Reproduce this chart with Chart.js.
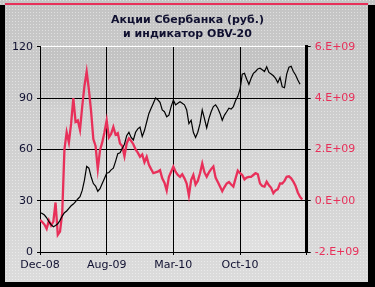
<!DOCTYPE html>
<html>
<head>
<meta charset="utf-8">
<script src="https://cdn.jsdelivr.net/npm/chart.js@4.4.0/dist/chart.umd.min.js"></script>
<style>
  html, body { margin: 0; padding: 0; background: #000; overflow: hidden; }
  canvas { display: block; }
</style>
</head>
<body>
<canvas id="sberbank" width="375" height="287"></canvas>
<script>

/*
 * Datos de la gráfica: acciones de Sberbank y OBV-20
 */

// Etiquetas del eje x (una cada 30 sesiones)
const etiquetasX = ['Dec-08', 'Aug-09', 'Mar-10', 'Oct-10'];

// Precio de la acción (rublos), eje izquierdo
const precioAcciones = [23, 22.5, 21.6, 20, 17.7, 16, 14.8, 15.5, 16.5, 18.5,
    21, 23, 24, 25.5, 27, 28, 29.5, 31, 32.3, 36,
    42, 50, 49, 44, 40, 38.5, 35.5, 37, 40, 43,
    46, 46.5, 48, 49, 53, 57.5, 58, 60.5, 63, 68,
    70, 67, 65.5, 70, 72, 73, 67.5, 71, 76, 81,
    84, 87, 90, 89, 87.5, 83, 82, 79, 80, 85,
    88.8, 86, 87, 87.8, 87, 86, 83, 75, 77, 70,
    67, 70, 75, 83, 78, 72.5, 78, 82, 85, 86,
    84, 81, 77, 80, 82, 84, 83.5, 85, 88.5, 91,
    95, 104, 104.5, 101, 98, 101.5, 104.4, 105.5, 107, 107.4,
    106.5, 105.5, 108.3, 105, 104, 103, 101.5, 99, 102, 96.5,
    96, 104, 108, 108.5, 105.5, 103.5, 100.5, 98];

// Indicador OBV-20 en miles de millones, eje derecho
const indicadorOBV = [-0.75, -0.83, -0.93, -1.10, -0.77, -0.97, -0.82, -0.07, -1.33, -1.20,
    -0.49, 2.00, 2.67, 2.27, 3.00, 4.00, 3.07, 3.13, 2.75, 3.67,
    4.47, 5.03, 4.33, 3.47, 2.40, 2.13, 1.23, 1.97, 2.27, 2.67,
    3.13, 2.47, 2.60, 2.87, 2.57, 2.63, 2.23, 2.13, 1.73, 2.23,
    2.43, 2.33, 2.20, 2.00, 1.87, 1.71, 1.80, 1.50, 1.71, 1.40,
    1.23, 1.07, 1.10, 1.13, 1.19, 0.87, 0.70, 0.40, 0.93, 1.13,
    1.33, 1.13, 1.00, 0.93, 1.03, 0.87, 0.67, 0.20, 0.80, 1.00,
    0.63, 0.77, 1.07, 1.45, 1.10, 0.93, 1.10, 1.23, 1.33, 0.90,
    0.73, 0.55, 0.37, 0.53, 0.67, 0.73, 0.63, 0.55, 0.87, 1.17,
    1.07, 1.00, 0.83, 0.90, 0.93, 0.93, 1.00, 1.07, 1.03, 0.67,
    0.57, 0.55, 0.74, 0.60, 0.50, 0.29, 0.40, 0.45, 0.67, 0.67,
    0.77, 0.93, 0.95, 0.87, 0.74, 0.57, 0.32, 0.15, 0.05];

const rojo = '#e8305a';
const textoOscuro = '#101030';
const fuente = 'DejaVu Sans, Verdana, sans-serif';

// Formato tipo Excel para el eje derecho: 6.E+09
function formatoCientifico(v) {
    if (v === 0) return '0.E+00';
    const exp = Math.floor(Math.log10(Math.abs(v)));
    const mant = Math.round(v / Math.pow(10, exp));
    return mant + '.E+' + String(exp).padStart(2, '0');
}

// Fondo punteado, área de trazado y marco negro
const fondoGrafica = {
    id: 'fondoGrafica',
    beforeDraw(chart) {
        const { ctx, width, height, chartArea: a } = chart;
        ctx.save();

        const gExt = ctx.createLinearGradient(0, 0, 0, height);
        gExt.addColorStop(0, '#c4c4c4');
        gExt.addColorStop(1, '#dcdcdc');
        ctx.fillStyle = gExt;
        ctx.fillRect(0, 0, width, height);

        const gInt = ctx.createLinearGradient(0, a.top, 0, a.bottom);
        gInt.addColorStop(0, '#c2c2c2');
        gInt.addColorStop(0.22, '#c6c6c6');
        gInt.addColorStop(0.3, '#d0d0d0');
        gInt.addColorStop(1, '#e0e0e0');
        ctx.fillStyle = gInt;
        ctx.fillRect(a.left, a.top, a.right - a.left, a.bottom - a.top);

        // trama de puntos claros
        const trama = document.createElement('canvas');
        trama.width = 3; trama.height = 3;
        const tctx = trama.getContext('2d');
        tctx.fillStyle = 'rgba(255,255,255,0.45)';
        tctx.fillRect(0, 0, 1, 1);
        ctx.fillStyle = ctx.createPattern(trama, 'repeat');
        ctx.fillRect(0, 0, width, height);

        // marco
        ctx.fillStyle = '#000';
        ctx.fillRect(0, 5, 5, height - 5);
        ctx.fillRect(368, 5, width - 368, height - 5);
        ctx.fillRect(0, 282, width, height - 282);
        ctx.fillStyle = rojo;
        ctx.fillRect(5, 3, 363, 2);
        ctx.restore();
    }
};

const datosGrafica = {
    datasets: [
        {
            label: 'Акции Сбербанка',
            data: precioAcciones.map((v, i) => ({ x: i, y: v })),
            borderColor: '#000',
            borderWidth: 1.2,
            pointRadius: 0,
            yAxisID: 'y'
        },
        {
            label: 'OBV-20',
            data: indicadorOBV.map((v, i) => ({ x: i, y: v * 1e9 })),
            borderColor: rojo,
            borderWidth: 2.3,
            pointRadius: 0,
            yAxisID: 'y2'
        }
    ]
};

const opciones = {
    responsive: false,
    animation: false,
    layout: { padding: 0 },
    plugins: {
        legend: { display: false },
        tooltip: { enabled: false },
        title: {
            display: true,
            text: ['Акции Сбербанка (руб.)', 'и индикатор OBV-20'],
            color: textoOscuro,
            font: { family: fuente, size: 11, weight: 'bold', lineHeight: 1.25 },
            padding: { top: 13.5, bottom: 5.7 }
        }
    },
    scales: {
        x: {
            type: 'linear',
            min: 0,
            max: 120,
            afterFit: s => { s.height = 35; },
            ticks: {
                stepSize: 30,
                autoSkip: false,
                maxRotation: 0,
                padding: 4,
                color: textoOscuro,
                font: { family: fuente, size: 11 },
                callback: v => etiquetasX[v / 30] || ''
            },
            grid: { color: '#000', lineWidth: 1, tickLength: 3 },
            border: { color: '#000', width: 1 }
        },
        y: {
            position: 'left',
            min: 0,
            max: 120,
            afterFit: s => { s.width = 40; },
            ticks: {
                stepSize: 30,
                padding: 4,
                color: textoOscuro,
                font: { family: fuente, size: 11 }
            },
            grid: {
                color: c => c.tick && c.tick.value === 120 ? '#fff' : '#000',
                tickColor: '#000',
                tickLength: 3
            },
            border: { color: '#000', width: 1 }
        },
        y2: {
            position: 'right',
            min: -2e9,
            max: 6e9,
            afterFit: s => { s.width = 68.3; },
            ticks: {
                stepSize: 2e9,
                padding: 4,
                color: rojo,
                font: { family: fuente, size: 11 },
                callback: v => formatoCientifico(v)
            },
            grid: { drawOnChartArea: false, color: '#000', tickLength: 4 },
            border: { color: '#000', width: 3 }
        }
    }
};

const grafica = new Chart(document.getElementById('sberbank'), {
    type: 'line',
    data: datosGrafica,
    options: opciones,
    plugins: [fondoGrafica]
});
</script>
</body>
</html>
